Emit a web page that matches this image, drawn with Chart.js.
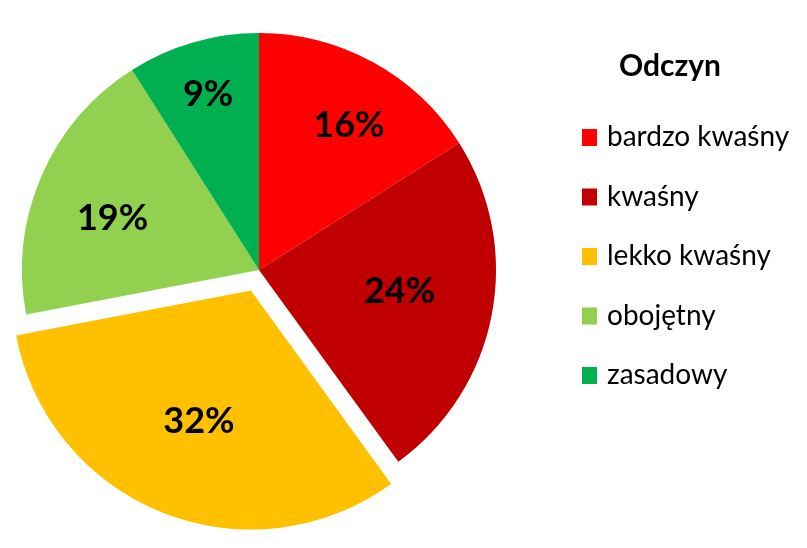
<!DOCTYPE html>
<html>
<head>
<meta charset="utf-8">
<script src="https://cdn.jsdelivr.net/npm/chart.js@4.4.1/dist/chart.umd.min.js"></script>
<style>
html,body{margin:0;padding:0;background:#fff;}
#wrap{width:807px;height:548px;}
</style>
</head>
<body>
<div id="wrap"><canvas id="c" width="807" height="548"></canvas></div>
<script>
const legendTitle = "Odczyn";
const categories = ["bardzo kwaśny", "kwaśny", "lekko kwaśny", "obojętny", "zasadowy"];
const values = [16, 24, 32, 19, 9];
const colors = ["#FF0000", "#C00000", "#FFC000", "#92D050", "#00B050"];
const explode = [0, 0, 88, 0, 0];
const labelRadius = [0.72, 0.60, 0.595, 0.655, 0.77];
const labelAngleShift = [3, -2, 0, -4, 0];

const FONT = "Lato, 'Open Sans', 'DejaVu Sans', sans-serif";

const labelPlugin = {
  id: 'sliceLabels',
  afterDatasetsDraw(chart) {
    const ctx = chart.ctx;
    const meta = chart.getDatasetMeta(0);
    const total = values.reduce((a, b) => a + b, 0);
    ctx.save();
    ctx.font = "bold 36px " + FONT;
    ctx.fillStyle = "#000";
    ctx.textAlign = "center";
    ctx.textBaseline = "middle";
    meta.data.forEach((arc, i) => {
      const p = arc.getProps(['x', 'y', 'startAngle', 'endAngle', 'outerRadius'], true);
      const mid = (p.startAngle + p.endAngle) / 2;
      const shift = (arc.options.offset || 0) / 4;
      const a = mid + labelAngleShift[i] * Math.PI / 180;
      const r = p.outerRadius * labelRadius[i];
      const x = p.x + Math.cos(mid) * shift + Math.cos(a) * r;
      const y = p.y + Math.sin(mid) * shift + Math.sin(a) * r;
      ctx.fillText(Math.round(values[i] / total * 100) + "%", x, y);
    });
    ctx.restore();
  }
};

const legendPlugin = {
  id: 'sideLegend',
  afterDraw(chart) {
    const ctx = chart.ctx;
    ctx.save();
    ctx.fillStyle = "#000";
    ctx.textBaseline = "middle";
    ctx.textAlign = "center";
    ctx.font = "bold 30px " + FONT;
    ctx.fillText(legendTitle, 670, 66);
    ctx.textAlign = "left";
    ctx.font = "28px " + FONT;
    categories.forEach((c, i) => {
      const yc = 137 + i * 59.5;
      ctx.fillStyle = colors[i];
      ctx.fillRect(582, yc - 8, 15, 17);
      ctx.fillStyle = "#000";
      ctx.fillText(c, 607, yc);
    });
    ctx.restore();
  }
};

new Chart(document.getElementById('c'), {
  type: 'pie',
  data: {
    labels: categories,
    datasets: [{
      data: values,
      backgroundColor: colors,
      borderWidth: 0,
      offset: explode,
      radius: 237
    }]
  },
  options: {
    responsive: false,
    animation: false,
    layout: { padding: { left: 0, top: 0, right: 289, bottom: 8 } },
    plugins: {
      legend: { display: false },
      tooltip: { enabled: false }
    }
  },
  plugins: [labelPlugin, legendPlugin]
});
</script>
</body>
</html>
